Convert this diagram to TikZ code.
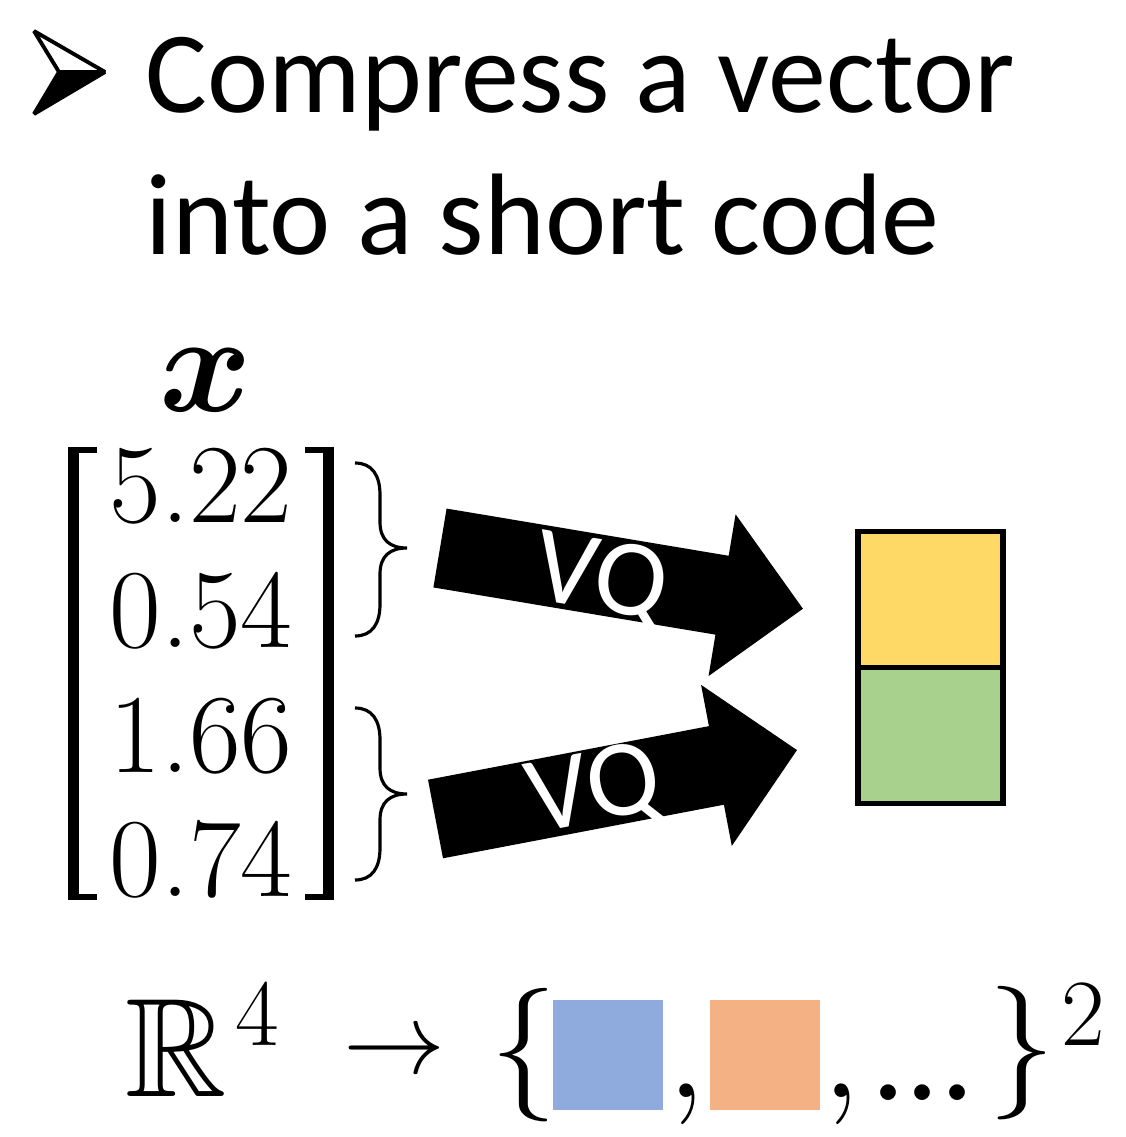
\RequirePackage{fix-cm}
\documentclass[tikz,border=0pt]{standalone}
\usepackage{amsmath,amssymb}
\usepackage{fontspec}
\newfontfamily\calibri{Carlito}
\usetikzlibrary{positioning}

\definecolor{codeyellow}{HTML}{FFD966}
\definecolor{codegreen}{HTML}{A9D18E}
\definecolor{swatchblue}{HTML}{8FAADC}
\definecolor{swatchorange}{HTML}{F4B183}

\tikzset{
  heading/.style={font=\calibri\fontsize{33}{40}\selectfont, anchor=base west, inner sep=0},
  entry/.style={font=\fontsize{32}{38}\selectfont, anchor=base, inner sep=0},
  vqlabel/.style={font=\calibri\fontsize{31}{36}\selectfont, text=white, inner sep=0},
  formula/.style={font=\fontsize{40}{48}\selectfont, inner sep=0},
  code/.style={draw, line width=1.7pt, minimum width=1.45cm, minimum height=1.36cm, outer sep=0, inner sep=0},
  swatch/.style={minimum size=1.1cm, inner sep=0},
  curly/.style={line width=0.9pt},
}

\begin{document}
\begin{tikzpicture}
\useasboundingbox (0,0) rectangle (11.26,-11.37);

% bullet and heading
\draw[line width=1.1pt, line join=bevel] (0.34,-0.31) -- (1.05,-0.72) -- (0.59,-0.72) -- cycle;
\filldraw[line width=1.1pt, line join=bevel] (0.59,-0.72) -- (1.05,-0.72) -- (0.34,-1.14) -- cycle;
\node[heading] (head1) at (1.45,-1.12) {Compress a vector};
\node[heading] (head2) at (1.45,-2.54) {into a short code};

% the vector x
\node[font=\fontsize{40}{46}\selectfont, inner sep=0] (xvec) at (2.06,-3.80) {$\boldsymbol{x}$};
\node[entry] (e1) at (2.01,-5.22) {5.22};
\node[entry] (e2) at (2.01,-6.47) {0.54};
\node[entry] (e3) at (2.01,-7.72) {1.66};
\node[entry] (e4) at (2.01,-8.96) {0.74};
\fill (0.68,-4.47) rectangle (0.79,-9.00);
\fill (0.68,-4.47) rectangle (0.97,-4.53);
\fill (0.68,-8.94) rectangle (0.97,-9.00);
\fill (3.23,-4.47) rectangle (3.34,-9.00);
\fill (3.05,-4.47) rectangle (3.34,-4.53);
\fill (3.05,-8.94) rectangle (3.34,-9.00);

% braces over the two halves
\draw[curly] (3.55,-4.63) .. controls (3.72,-4.63) and (3.80,-4.75) .. (3.80,-4.95)
  -- (3.80,-5.22) .. controls (3.80,-5.40) and (3.90,-5.48) .. (4.07,-5.48)
  .. controls (3.90,-5.48) and (3.80,-5.56) .. (3.80,-5.74)
  -- (3.80,-6.04) .. controls (3.80,-6.24) and (3.72,-6.36) .. (3.55,-6.36);
\draw[curly] (3.55,-7.08) .. controls (3.72,-7.08) and (3.80,-7.20) .. (3.80,-7.40)
  -- (3.80,-7.68) .. controls (3.80,-7.86) and (3.90,-7.94) .. (4.07,-7.94)
  .. controls (3.90,-7.94) and (3.80,-8.02) .. (3.80,-8.20)
  -- (3.80,-8.48) .. controls (3.80,-8.68) and (3.72,-8.80) .. (3.55,-8.80);

% VQ arrows
\begin{scope}[shift={(4.40,-5.48)}, rotate=-9.5]
\fill (0,0.4) -- (2.86,0.4) -- (2.86,0.82) -- (3.68,0) -- (2.86,-0.82) -- (2.86,-0.4) -- (0,-0.4) -- cycle;
\end{scope}
\begin{scope}[shift={(4.355,-8.19)}, rotate=10.8]
\fill (0,0.4) -- (2.86,0.4) -- (2.86,0.82) -- (3.68,0) -- (2.86,-0.82) -- (2.86,-0.4) -- (0,-0.4) -- cycle;
\end{scope}
\node[vqlabel, rotate=-9.5] (vq1) at (6.01,-5.82) {VQ};
\node[vqlabel, rotate=10.8] (vq2) at (5.95,-7.93) {VQ};

% the short code
\node[code, fill=codeyellow] (c1) at (9.305,-5.995) {};
\node[code, fill=codegreen, below=0cm of c1] (c2) {};

% R^4 -> {...}^2
\node[formula, anchor=base west] (reals) at (1.25,-10.96) {$\mathbb{R}$};
\node[font=\fontsize{27}{32}\selectfont, inner sep=0] (dim) at (2.57,-10.15) {$4$};
\node[font=\fontsize{29}{34}\selectfont, inner sep=0] (maps) at (3.94,-10.55) {$\rightarrow$};
\node[font=\fontsize{38}{44}\selectfont, inner sep=0] (lbrace) at (5.24,-10.55) {$\{$};
\node[swatch, fill=swatchblue] (sw1) at (6.08,-10.55) {};
\node[formula, anchor=base] (comma1) at (6.87,-10.97) {$,$};
\node[swatch, fill=swatchorange] (sw2) at (7.65,-10.55) {};
\node[formula, anchor=base] (comma2) at (8.42,-10.97) {$,$};
\node[font=\fontsize{31}{36}\selectfont\bfseries, anchor=base, inner sep=0] (dots) at (9.23,-11.00) {...};
\node[font=\fontsize{38}{44}\selectfont, inner sep=0] (rbrace) at (10.22,-10.53) {$\}$};
\node[font=\fontsize{27}{32}\selectfont, inner sep=0] (power) at (10.83,-10.15) {$2$};

\end{tikzpicture}
\end{document}
